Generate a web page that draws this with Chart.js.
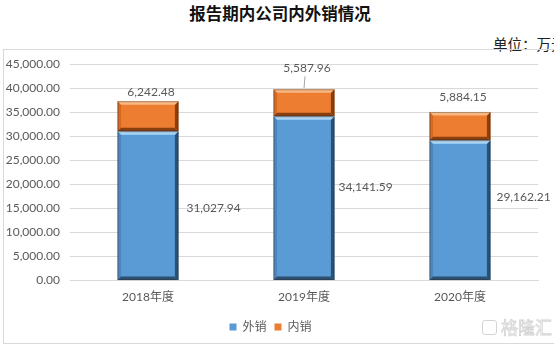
<!DOCTYPE html>
<html>
<head>
<meta charset="utf-8">
<script src="https://cdn.jsdelivr.net/npm/chart.js@4"></script>
<style>
  html, body { margin: 0; padding: 0; background: #fff; }
  body { width: 554px; height: 345px; position: relative; overflow: hidden; }
  #title { position: absolute; left: 0; top: 1px; width: 560px; text-align: center;
    font: bold 16.5px "Noto Sans CJK SC", sans-serif; color: #111; }
  #unit { position: absolute; left: 493px; top: 33px; white-space: nowrap;
    font: 14.5px "Noto Sans CJK SC", serif; color: #222; }
  #box { position: absolute; left: 3px; top: 49px; width: 600px; height: 295px;
    border: 1px solid #d9d9d9; box-sizing: border-box; }
  #wrap { position: absolute; left: 0; top: 0; width: 554px; height: 345px; }
  #mark { position: absolute; left: 482px; top: 314px; font: 17px "Noto Sans CJK SC", sans-serif;
    color: transparent; -webkit-text-stroke: 0.8px #d4d4d4; white-space: nowrap; }
  #mark span { display: inline-block; width: 13px; height: 13px; border: 1.5px solid #d4d4d4;
    border-radius: 3px; margin-right: 4px; vertical-align: -1px; }
</style>
</head>
<body>
<div id="title">报告期内公司内外销情况</div>
<div id="unit">单位：万元</div>
<div id="box"></div>
<div id="wrap"><canvas id="chart"></canvas></div>
<div id="mark"><span></span>格隆汇</div>
<script>
const categories = ['2018年度', '2019年度', '2020年度'];
const exportSales = [31027.94, 34141.59, 29162.21];   // 外销
const domesticSales = [6242.48, 5587.96, 5884.15];    // 内销
const yTicks = [0, 5000, 10000, 15000, 20000, 25000, 30000, 35000, 40000, 45000];

const FONT = 'Lato, "Noto Sans CJK SC", sans-serif';
const fmt = v => v.toLocaleString('en-US', { minimumFractionDigits: 2, maximumFractionDigits: 2 });

// bevel look like the office chart
const bevel = {
  id: 'bevel',
  afterDatasetsDraw(chart) {
    const ctx = chart.ctx;
    const shades = [
      { light: '#a9d5f5', dark: '#2d4f70', side: '#4d86bb' },
      { light: '#f8b884', dark: '#8a3f0f', side: '#d66a22' }
    ];
    chart.data.datasets.forEach((ds, di) => {
      const s = shades[di];
      chart.getDatasetMeta(di).data.forEach(bar => {
        const { x, y, base, width } = bar.getProps(['x', 'y', 'base', 'width'], true);
        const l = x - width / 2, r = x + width / 2, t = Math.min(y, base), b = Math.max(y, base);
        const k = 3.5;
        const poly = (pts, c) => {
          ctx.beginPath();
          ctx.moveTo(pts[0][0], pts[0][1]);
          pts.slice(1).forEach(p => ctx.lineTo(p[0], p[1]));
          ctx.closePath();
          ctx.fillStyle = c;
          ctx.fill();
        };
        ctx.save();
        poly([[l, t], [l + k, t + k], [l + k, b - k], [l, b]], s.side);
        poly([[r, t], [r, b], [r - k, b - k], [r - k, t + k]], s.dark);
        poly([[l, b], [r, b], [r - k, b - k], [l + k, b - k]], s.dark);
        poly([[l, t], [r, t], [r - k, t + k], [l + k, t + k]], s.light);
        ctx.strokeStyle = 'rgba(40,40,40,0.35)';
        ctx.lineWidth = 1;
        ctx.strokeRect(l + 0.5, t + 0.5, width - 1, b - t - 1);
        ctx.restore();
      });
    });
  }
};

const valueLabels = {
  id: 'valueLabels',
  afterDatasetsDraw(chart, args, opts) {
    const ctx = chart.ctx;
    ctx.save();
    ctx.font = '12px ' + FONT;
    ctx.fillStyle = '#595959';
    // export sales: right of the bar
    chart.getDatasetMeta(0).data.forEach((bar, i) => {
      const { x, y, base, width } = bar.getProps(['x', 'y', 'base', 'width'], true);
      ctx.textAlign = 'left';
      ctx.textBaseline = 'middle';
      ctx.fillText(fmt(exportSales[i]), x + width / 2 + opts.sideGap[i], (y + base) / 2 + opts.sideShift[i]);
    });
    // domestic sales: above the bar
    chart.getDatasetMeta(1).data.forEach((bar, i) => {
      const { x, y } = bar.getProps(['x', 'y'], true);
      const ly = y - opts.lift[i];
      ctx.textAlign = 'center';
      ctx.textBaseline = 'middle';
      ctx.fillText(fmt(domesticSales[i]), x + 3, ly);
      if (opts.lift[i] > 18) {
        ctx.strokeStyle = '#a6a6a6';
        ctx.lineWidth = 1;
        ctx.beginPath();
        ctx.moveTo(x + 1, ly + 8);
        ctx.lineTo(x, y - 1);
        ctx.stroke();
      }
    });
    ctx.restore();
  }
};

new Chart(document.getElementById('chart'), {
  type: 'bar',
  data: {
    labels: categories,
    datasets: [
      { label: '外销', data: exportSales, backgroundColor: '#5b9bd5', borderWidth: 0 },
      { label: '内销', data: domesticSales, backgroundColor: '#ed7d31', borderWidth: 0 }
    ]
  },
  options: {
    responsive: true,
    maintainAspectRatio: false,
    animation: false,
    layout: { padding: { left: 3, right: 16, top: 64, bottom: 2 } },
    datasets: { bar: { barPercentage: 0.78, categoryPercentage: 0.5 } },
    scales: {
      x: {
        stacked: true,
        grid: { display: false, drawTicks: false },
        border: { color: '#d9d9d9' },
        ticks: { color: '#595959', font: { family: FONT, size: 12 }, padding: 9 }
      },
      y: {
        stacked: true,
        min: 0,
        max: 45000,
        afterBuildTicks: scale => { scale.ticks = yTicks.map(v => ({ value: v })); },
        afterFit: scale => { scale.width = 67; },
        border: { display: false },
        grid: { color: '#d9d9d9', drawTicks: false },
        ticks: { color: '#595959', font: { family: FONT, size: 12 }, padding: 10, callback: v => fmt(v) }
      }
    },
    plugins: {
      title: { display: false },
      tooltip: { enabled: false },
      legend: {
        position: 'bottom',
        labels: { boxWidth: 7, boxHeight: 7, padding: 8, color: '#595959', font: { family: FONT, size: 12 } }
      },
      valueLabels: { lift: [9, 21, 15], sideGap: [8, 4, 6], sideShift: [2, -11, -13] }
    }
  },
  plugins: [bevel, valueLabels]
});
</script>
</body>
</html>
